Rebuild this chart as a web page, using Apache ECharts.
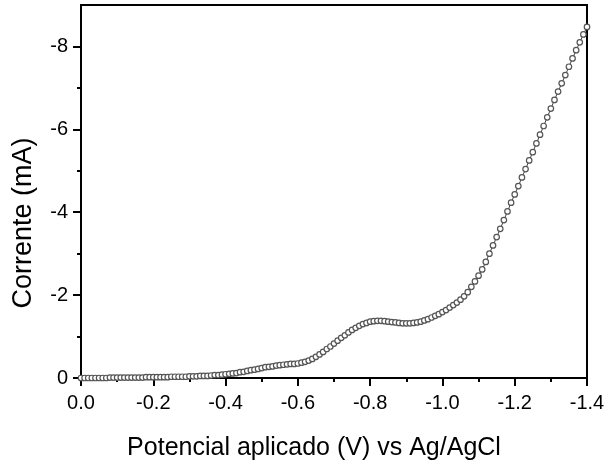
<!DOCTYPE html>
<html>
<head>
<meta charset="utf-8">
<title>Corrente vs Potencial</title>
<script src="https://cdn.jsdelivr.net/npm/echarts@6.0.0/dist/echarts.min.js"></script>
<style>
    html, body { margin: 0; padding: 0; background: #fff; }
    #chart { width: 604px; height: 463px; }
</style>
</head>
<body>
<div id="chart"></div>
<script>
// potencial aplicado (V vs Ag/AgCl), 0.01 V per point
const potential = [
    0.00, -0.01, -0.02, -0.03, -0.04, -0.05, -0.06, -0.07, -0.08, -0.09, -0.10,
    -0.11, -0.12, -0.13, -0.14, -0.15, -0.16, -0.17, -0.18, -0.19, -0.20,
    -0.21, -0.22, -0.23, -0.24, -0.25, -0.26, -0.27, -0.28, -0.29, -0.30,
    -0.31, -0.32, -0.33, -0.34, -0.35, -0.36, -0.37, -0.38, -0.39, -0.40,
    -0.41, -0.42, -0.43, -0.44, -0.45, -0.46, -0.47, -0.48, -0.49, -0.50,
    -0.51, -0.52, -0.53, -0.54, -0.55, -0.56, -0.57, -0.58, -0.59, -0.60,
    -0.61, -0.62, -0.63, -0.64, -0.65, -0.66, -0.67, -0.68, -0.69, -0.70,
    -0.71, -0.72, -0.73, -0.74, -0.75, -0.76, -0.77, -0.78, -0.79, -0.80,
    -0.81, -0.82, -0.83, -0.84, -0.85, -0.86, -0.87, -0.88, -0.89, -0.90,
    -0.91, -0.92, -0.93, -0.94, -0.95, -0.96, -0.97, -0.98, -0.99, -1.00,
    -1.01, -1.02, -1.03, -1.04, -1.05, -1.06, -1.07, -1.08, -1.09, -1.10,
    -1.11, -1.12, -1.13, -1.14, -1.15, -1.16, -1.17, -1.18, -1.19, -1.20,
    -1.21, -1.22, -1.23, -1.24, -1.25, -1.26, -1.27, -1.28, -1.29, -1.30,
    -1.31, -1.32, -1.33, -1.34, -1.35, -1.36, -1.37, -1.38, -1.39, -1.40
]

// corrente (mA)
const current = [
    0.00, 0.00, 0.00, 0.00, 0.00, 0.00, 0.00, 0.00, -0.01, -0.01, -0.01,
    -0.01, -0.01, -0.01, -0.01, -0.01, -0.01, -0.01, -0.02, -0.02, -0.02,
    -0.02, -0.02, -0.02, -0.02, -0.03, -0.03, -0.03, -0.03, -0.03, -0.04,
    -0.04, -0.04, -0.05, -0.05, -0.05, -0.06, -0.07, -0.07, -0.08, -0.09,
    -0.10, -0.11, -0.12, -0.14, -0.15, -0.17, -0.19, -0.20, -0.22, -0.24,
    -0.26, -0.27, -0.28, -0.30, -0.31, -0.32, -0.33, -0.34, -0.34, -0.35,
    -0.37, -0.39, -0.42, -0.46, -0.51, -0.57, -0.63, -0.70, -0.76, -0.83,
    -0.90, -0.97, -1.03, -1.10, -1.16, -1.21, -1.26, -1.30, -1.33, -1.36,
    -1.37, -1.38, -1.38, -1.37, -1.36, -1.35, -1.34, -1.33, -1.32, -1.32,
    -1.32, -1.33, -1.34, -1.36, -1.39, -1.42, -1.46, -1.50, -1.54, -1.59,
    -1.64, -1.70, -1.76, -1.82, -1.89, -1.97, -2.07, -2.20, -2.33, -2.47,
    -2.62, -2.80, -3.00, -3.20, -3.40, -3.60, -3.81, -4.02, -4.23, -4.43,
    -4.63, -4.84, -5.04, -5.25, -5.45, -5.66, -5.87, -6.08, -6.29, -6.50,
    -6.71, -6.91, -7.11, -7.31, -7.51, -7.71, -7.91, -8.10, -8.29, -8.47
]

// tick positions (magnitude of current, labels get the minus sign)
const yMajorTicks = [0, 2, 4, 6, 8]
const yMinorTicks = [1, 3, 5, 7]

const xName = 'Potencial aplicado (V) vs Ag/AgCl'
const yName = 'Corrente (mA)'

const font = '"Liberation Sans", Arial, sans-serif'

const chart = echarts.init(document.getElementById('chart'))

const option = {
    backgroundColor: '#fff',
    animation: false,
    grid: {
        left: 81,
        right: 17,
        top: 5,
        bottom: 85,
        show: true,
        borderColor: '#000',
        borderWidth: 2,
        containLabel: false,
        outerBoundsMode: 'none'
    },
    xAxis: {
        type: 'value',
        min: -1.4,
        max: 0,
        interval: 0.2,
        inverse: true,
        axisLine: { lineStyle: { color: '#000', width: 2 } },
        axisTick: { length: 8, lineStyle: { color: '#000', width: 2 } },
        minorTick: { show: true, splitNumber: 2, length: 4, lineStyle: { color: '#000', width: 2 } },
        splitLine: { show: false },
        minorSplitLine: { show: false },
        axisLabel: {
            margin: 15,
            color: '#000',
            fontSize: 20,
            fontFamily: font,
            formatter: v => v.toFixed(1)
        }
    },
    yAxis: [{
        type: 'value',
        min: 0,
        max: 9,
        position: 'left',
        axisLine: { lineStyle: { color: '#000', width: 2 } },
        axisTick: { length: 8, customValues: yMajorTicks, lineStyle: { color: '#000', width: 2 } },
        splitLine: { show: false },
        axisLabel: {
            margin: 13,
            color: '#000',
            fontSize: 20,
            fontFamily: font,
            customValues: yMajorTicks,
            formatter: v => v === 0 ? '0' : '-' + v
        }
    }, {
        // only the short ticks between the labelled ones
        type: 'value',
        min: 0,
        max: 9,
        position: 'left',
        axisLine: { show: false },
        axisTick: { length: 4, customValues: yMinorTicks, lineStyle: { color: '#000', width: 2 } },
        splitLine: { show: false },
        axisLabel: { show: false }
    }],
    graphic: [{
        type: 'text',
        x: 314,
        y: 448,
        style: {
            text: xName,
            fill: '#000',
            font: '25px ' + font,
            textAlign: 'center',
            textVerticalAlign: 'middle'
        }
    }, {
        type: 'text',
        x: 24,
        y: 223,
        rotation: Math.PI / 2,
        style: {
            text: yName,
            fill: '#000',
            font: '27px ' + font,
            textAlign: 'center',
            textVerticalAlign: 'middle'
        }
    }],
    series: [{
        type: 'line',
        yAxisIndex: 0,
        data: potential.map((p, i) => [p, -current[i]]),
        symbol: 'circle',
        symbolSize: 5.5,
        showSymbol: true,
        showAllSymbol: true,
        lineStyle: { color: '#444', width: 1 },
        itemStyle: { color: '#fff', borderColor: '#555', borderWidth: 1.2 },
        emphasis: { disabled: true }
    }]
}

chart.setOption(option)
</script>
</body>
</html>
